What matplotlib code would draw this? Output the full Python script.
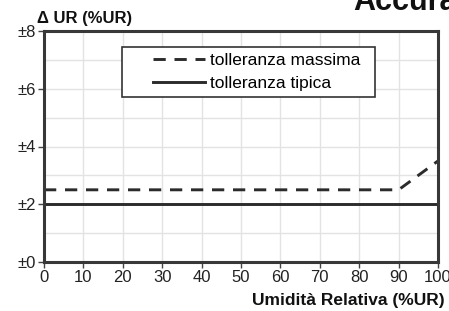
import matplotlib
matplotlib.use("Agg")
import matplotlib.pyplot as plt
from matplotlib.ticker import MultipleLocator
from matplotlib.patches import Rectangle

plt.rcParams['font.family'] = ['Liberation Sans', 'DejaVu Sans']

x_max = [0, 90, 100]
y_max = [2.5, 2.5, 3.5]
x_typ = [0, 100]
y_typ = [2.0, 2.0]
xticks = [0, 10, 20, 30, 40, 50, 60, 70, 80, 90, 100]
yticks = [0, 2, 4, 6, 8]
ytick_labels = ['±0', '±2', '±4', '±6', '±8']

W, H = 449, 311
fig = plt.figure(figsize=(W/100, H/100), dpi=100)
ax = fig.add_axes([44/W, 49/H, 394/W, 231/H])

line_col = '#2b2b2b'
ax.plot(x_max, y_max, color=line_col, lw=2.1, ls=(0, (4.2, 3.0)), label='tolleranza massima')
ax.plot(x_typ, y_typ, color=line_col, lw=2.1, label='tolleranza tipica')

ax.set_xlim(0, 100)
ax.set_ylim(0, 8)
ax.set_xticks(xticks)
ax.set_yticks(yticks)
ax.set_yticklabels(ytick_labels)
ax.yaxis.set_minor_locator(MultipleLocator(1))
ax.grid(True, which='both', color='#e3e3e3', lw=1.0)
ax.set_axisbelow(True)
ax.tick_params(axis='both', which='major', labelsize=12, colors='#444444', length=4, width=1, pad=2, labelcolor='#222222')
ax.tick_params(axis='y', which='minor', length=0)
for s in ax.spines.values():
    s.set_color('#383838')
    s.set_linewidth(2.2)

# legend box (frame drawn separately to reproduce the extra left padding)
box = Rectangle((122/W, 1 - 97/H), (375-122)/W, (97-47)/H, transform=fig.transFigure,
                facecolor='white', edgecolor='#333333', lw=1.2, zorder=5, clip_on=False)
ax.add_patch(box)
leg = ax.legend(loc='upper left', bbox_to_anchor=(153/W, 1 - 53/H), bbox_transform=fig.transFigure,
                fontsize=12.5, frameon=False, handlelength=3.0, handletextpad=0.3,
                borderpad=0.0, labelspacing=0.42, borderaxespad=0)
leg.set_zorder(6)

fig.text(37/W, 1 - 18/H, 'Δ UR (%UR)', fontsize=12, fontweight='bold', va='center', ha='left', color='#111111')
fig.text(445/W, 1 - 301/H, 'Umidità Relativa (%UR)', fontsize=12.5, fontweight='bold', va='center', ha='right', color='#111111')
fig.text(353/W, 1 - 10/H, 'Accuracy', fontsize=22, fontweight='bold', va='baseline', ha='left', color='#111111')

fig.savefig('out.png', dpi=100)
